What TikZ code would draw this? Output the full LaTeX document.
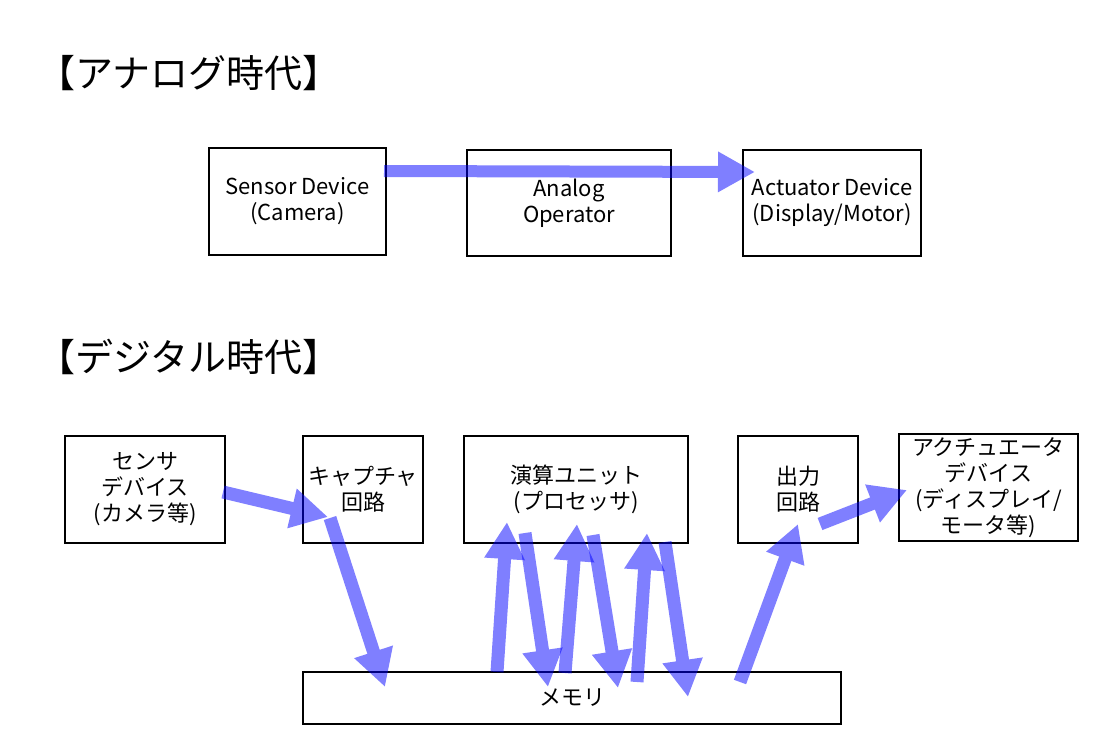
\documentclass[tikz,border=0pt]{standalone}
\usepackage{fontspec}
\setmainfont{Noto Sans CJK JP}
\usetikzlibrary{arrows.meta}
\begin{document}
\begin{tikzpicture}[x=1pt,y=-1pt,
  box/.style={draw, line width=2pt, inner sep=0pt, align=center, font=\fontsize{22}{26}\selectfont},
  title/.style={anchor=west, inner sep=0pt, font=\fontsize{38}{44}\selectfont},
  flow/.style={draw=blue, line width=13pt, -{Triangle[length=37pt,width=38pt]}},
  fgroup/.style={transparency group, opacity=0.5}]
\useasboundingbox (0,0) rectangle (1113,754);
% titles
\node[title] (t1) at (37,73) {【アナログ時代】};
\node[title] (t2) at (37,357) {【デジタル時代】};
% analog
\node[box, minimum width=177pt, minimum height=107pt] (sens) at (297.5,201.5) {Sensor Device\\(Camera)};
\node[box, minimum width=204pt, minimum height=106pt] (aop) at (569,203) {Analog\\Operator};
\node[box, minimum width=178pt, minimum height=106pt] (act) at (832,203) {Actuator Device\\(Display/Motor)};
\coordinate (a1) at (384,171);
\coordinate (a2) at (755,172);
% digital
\node[box, minimum width=160pt, minimum height=107pt] (dsens) at (145,489.5) {センサ\\デバイス\\(カメラ等)};
\node[box, minimum width=120pt, minimum height=107pt] (cap) at (363,489.5) {キャプチャ\\回路};
\node[box, minimum width=224pt, minimum height=107pt] (proc) at (576,489.5) {演算ユニット\\(プロセッサ)};
\node[box, minimum width=120pt, minimum height=107pt] (out) at (798,489.5) {出力\\回路};
\node[box, minimum width=179pt, minimum height=107pt] (dact) at (988.5,487.5) {アクチュエータ\\デバイス\\(ディスプレイ/\\モータ等)};
\node[box, minimum width=538pt, minimum height=52pt] (mem) at (572,698) {メモリ};
% arrow endpoints
\coordinate (s1) at (223,492);
\coordinate (s2) at (328,517);
\coordinate (c1) at (330,518);
\coordinate (c2) at (385,687);
\coordinate (u1a) at (497,672);
\coordinate (u1b) at (507,522);
\coordinate (d1a) at (525,533);
\coordinate (d1b) at (548,687);
\coordinate (u2a) at (565,673);
\coordinate (u2b) at (577,524);
\coordinate (d2a) at (593,535);
\coordinate (d2b) at (618,688);
\coordinate (u3a) at (637,682);
\coordinate (u3b) at (647,533);
\coordinate (d3a) at (665,542);
\coordinate (d3b) at (688,697);
\coordinate (o1) at (740,682);
\coordinate (o2) at (798,524);
\coordinate (p1) at (820,524);
\coordinate (p2) at (907,490);
\begin{scope}[fgroup]\draw[flow, line width=12pt] (a1) -- (a2);\end{scope}
\begin{scope}[fgroup]\draw[flow] (s1) -- (s2);\end{scope}
\begin{scope}[fgroup]\draw[flow] (c1) -- (c2);\end{scope}
\begin{scope}[fgroup]\draw[flow] (u1a) -- (u1b);\end{scope}
\begin{scope}[fgroup]\draw[flow] (d1a) -- (d1b);\end{scope}
\begin{scope}[fgroup]\draw[flow] (u2a) -- (u2b);\end{scope}
\begin{scope}[fgroup]\draw[flow] (d2a) -- (d2b);\end{scope}
\begin{scope}[fgroup]\draw[flow] (u3a) -- (u3b);\end{scope}
\begin{scope}[fgroup]\draw[flow] (d3a) -- (d3b);\end{scope}
\begin{scope}[fgroup]\draw[flow] (o1) -- (o2);\end{scope}
\begin{scope}[fgroup]\draw[flow] (p1) -- (p2);\end{scope}
\end{tikzpicture}
\end{document}
